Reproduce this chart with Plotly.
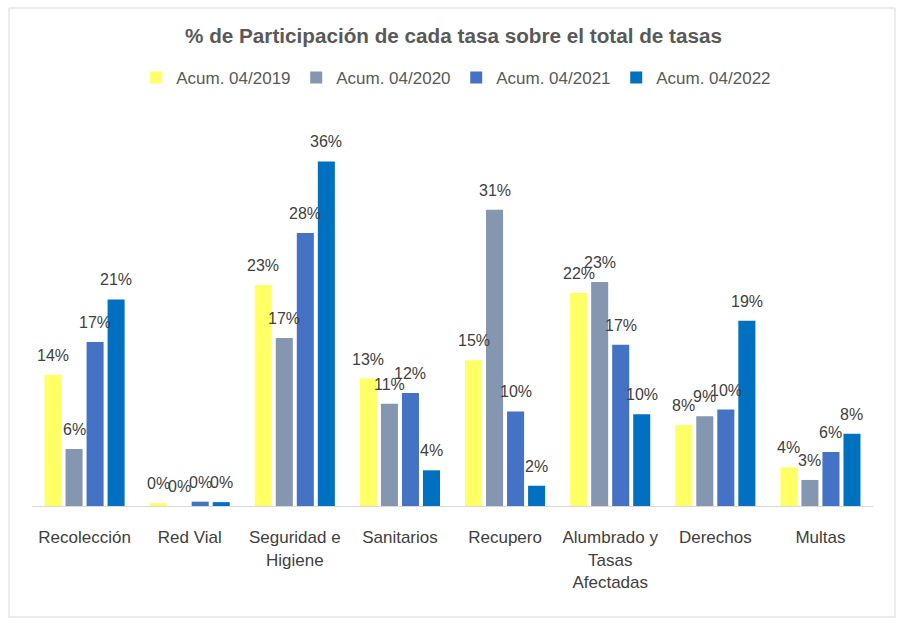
import plotly.graph_objects as go

categories = ["Recolección", "Red Vial", "Seguridad e<br>Higiene", "Sanitarios", "Recupero",
              "Alumbrado y<br>Tasas<br>Afectadas", "Derechos", "Multas"]
series_names = ["Acum. 04/2019", "Acum. 04/2020", "Acum. 04/2021", "Acum. 04/2022"]
v2019 = [13.6, 0.3, 22.9, 13.2, 15.1, 22.1, 8.4, 4.0]
v2020 = [5.9, 0.0, 17.4, 10.6, 30.7, 23.2, 9.3, 2.7]
v2021 = [17.0, 0.45, 28.3, 11.7, 9.8, 16.7, 10.0, 5.6]
v2022 = [21.4, 0.4, 35.7, 3.7, 2.1, 9.5, 19.2, 7.5]
colors = ["#FFFF66", "#8496B0", "#4472C4", "#0070C0"]

FONT = "Liberation Sans, Arial, sans-serif"
W, H = 907, 633
ML, MR, MT, MB = 32, 34, 120, 127
BARGAP = 0.2
plot_w = W - ML - MR
slot = plot_w / len(categories) * (1 - BARGAP) / len(series_names)

fig = go.Figure()
annotations = []
all_series = [v2019, v2020, v2021, v2022]
for i, (name, vals, col) in enumerate(zip(series_names, all_series, colors)):
    fig.add_trace(go.Bar(
        x=categories, y=vals, name=name,
        marker=dict(color=col, line=dict(width=0)),
    ))
    for cat, v in zip(categories, vals):
        annotations.append(dict(
            x=cat, y=v, xref="x", yref="y", text=f"{v:.0f}%", showarrow=False,
            xshift=(i - (len(series_names) - 1) / 2) * slot, yshift=9,
            yanchor="bottom", xanchor="center",
            font=dict(family=FONT, size=16, color="#404040"),
        ))

fig.update_layout(
    width=W, height=H,
    margin=dict(l=ML, r=MR, t=MT, b=MB),
    paper_bgcolor="white", plot_bgcolor="white",
    barmode="group", bargap=BARGAP, bargroupgap=0.19,
    title=dict(text="<b>% de Participación de cada tasa sobre el total de tasas</b>",
               x=0.5, xanchor="center", xref="container",
               y=1 - 36 / H, yanchor="middle", yref="container",
               font=dict(family=FONT, size=20.7, color="#595959")),
    legend=dict(orientation="h", x=0.503, xanchor="center", xref="container",
                y=1 - 78 / H, yanchor="middle", yref="container",
                font=dict(family=FONT, size=17, color="#595959"),
                entrywidth=115, entrywidthmode="pixels",
                traceorder="normal", itemwidth=30),
    xaxis=dict(showline=True, linecolor="#D9D9D9", linewidth=1,
               ticks="", ticklabelstandoff=16,
               tickfont=dict(family=FONT, size=17, color="#404040"),
               showgrid=False, zeroline=False),
    yaxis=dict(range=[0, 40], visible=False, showgrid=False, zeroline=False),
    showlegend=True,
    annotations=annotations,
    shapes=[dict(type="rect", xref="paper", yref="paper",
                 x0=(9 - ML) / plot_w, x1=(895 - ML) / plot_w,
                 y0=(H - MB - 617) / (H - MT - MB), y1=(H - MB - 8) / (H - MT - MB),
                 line=dict(color="#D9D9D9", width=1), fillcolor="rgba(0,0,0,0)",
                 layer="below")],
)

fig.write_html("out.html")
